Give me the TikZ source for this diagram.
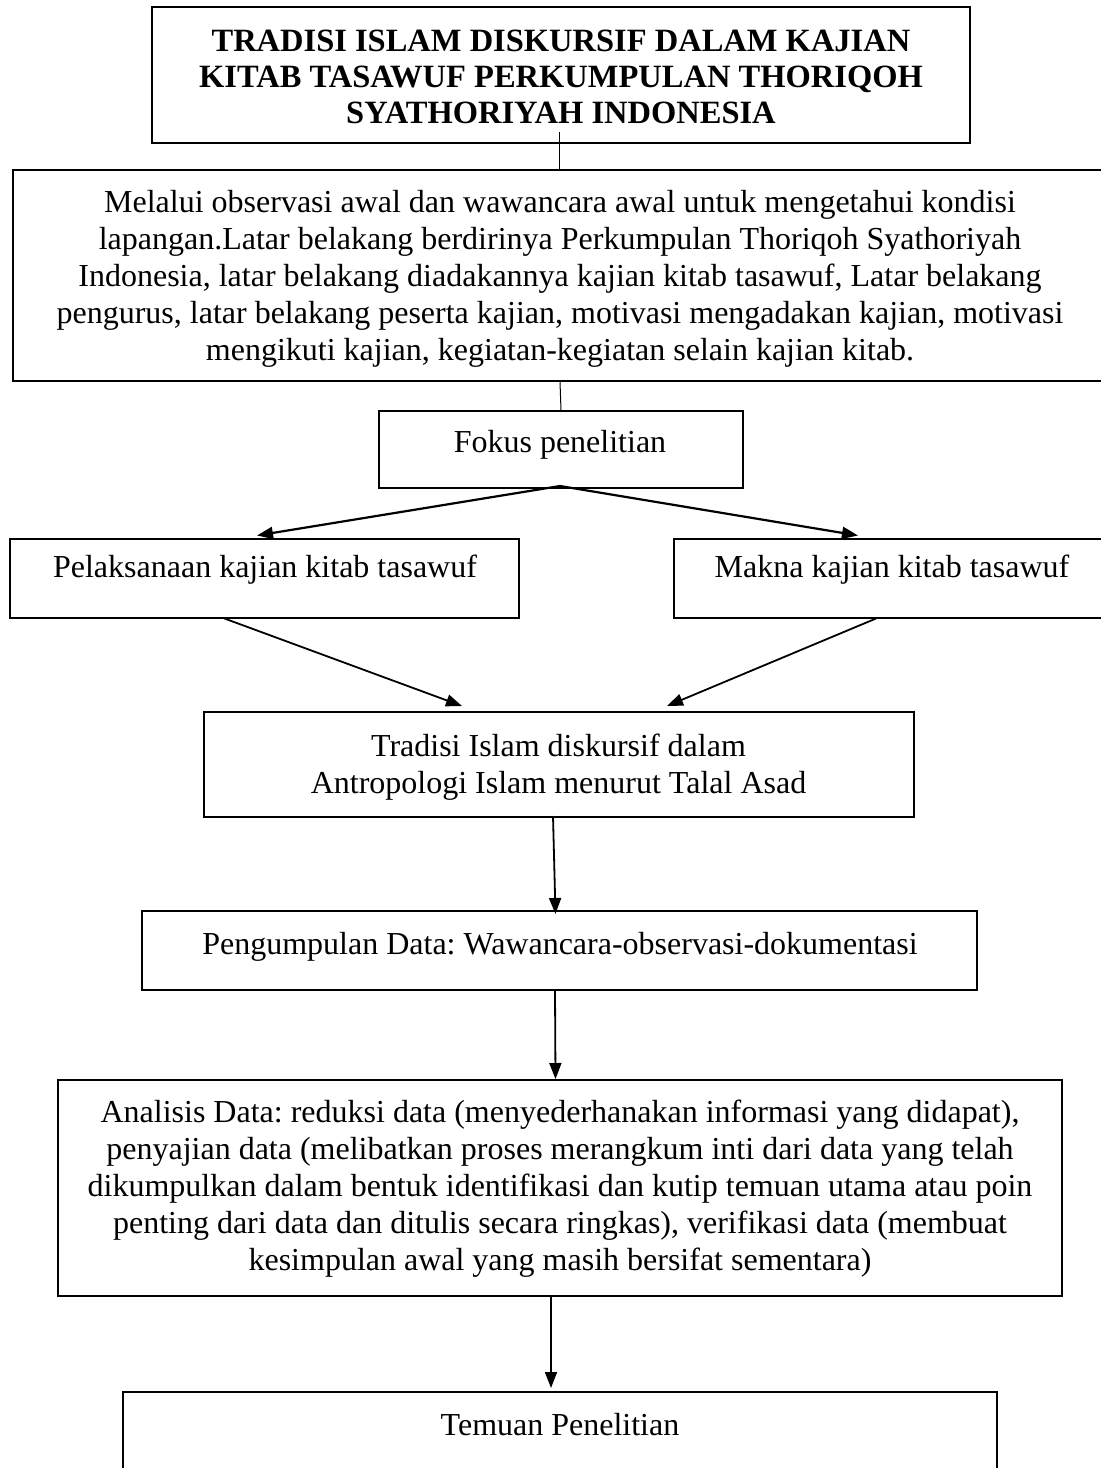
\documentclass[tikz,border=0pt]{standalone}
\usepackage{fontspec}
\setmainfont{Liberation Serif}
\usetikzlibrary{arrows.meta}
\frenchspacing
\newcommand\fsz{\fontsize{32}{37}\selectfont}
\newcommand\tsz{\fontsize{32.5}{36}\selectfont\bfseries}
\tikzset{
  boxnode/.style={draw, line width=2pt, rectangle, inner sep=0pt},
  txt/.style={font=\fsz, align=center, inner sep=0pt},
  conn/.style={line width=1pt},
  arr/.style={line width=1.8pt, -{Triangle[length=16pt,width=12pt]}},
  thickarr/.style={arr, line width=2.2pt},
}
\begin{document}
\begin{tikzpicture}[x=1pt,y=-1pt]
\useasboundingbox (0,0) rectangle (1101,1468);
\clip (0,0) rectangle (1101,1468);
\fill[white] (0,0) rectangle (1101,1468);
% boxes
\node[boxnode, minimum width=818, minimum height=136] (title) at (561,75) {};
\node[boxnode, minimum width=1094, minimum height=211] (obs) at (560,275.5) {};
\node[boxnode, minimum width=364, minimum height=77] (fokus) at (561,449.5) {};
\node[boxnode, minimum width=509, minimum height=79] (pel) at (264.5,578) {};
\node[boxnode, minimum width=436, minimum height=79] (makna) at (892,578) {};
\node[boxnode, minimum width=710, minimum height=105] (trad) at (559,764.5) {};
\node[boxnode, minimum width=835, minimum height=79] (peng) at (559.5,950.5) {};
\node[boxnode, minimum width=1004, minimum height=216] (anal) at (560,1188) {};
\node[boxnode, minimum width=874, minimum height=120] (temuan) at (560,1452) {};
% texts
\node[txt, font=\tsz] (titletxt) at (561,77) {TRADISI ISLAM DISKURSIF DALAM KAJIAN\\KITAB TASAWUF PERKUMPULAN THORIQOH\\SYATHORIYAH INDONESIA};
\node[txt] (obstxt) at (560,279) {Melalui observasi awal dan wawancara awal untuk mengetahui kondisi\\lapangan.Latar belakang berdirinya Perkumpulan Thoriqoh Syathoriyah\\Indonesia, latar belakang diadakannya kajian kitab tasawuf, Latar belakang\\pengurus, latar belakang peserta kajian, motivasi mengadakan kajian, motivasi\\mengikuti kajian, kegiatan-kegiatan selain kajian kitab.};
\node[txt] (fokustxt) at (560,445) {Fokus penelitian};
\node[txt] (peltxt) at (265,570) {Pelaksanaan kajian kitab tasawuf};
\node[txt] (maknatxt) at (892,570) {Makna kajian kitab tasawuf};
\node[txt] (tradtxt) at (558.5,767) {Tradisi Islam diskursif dalam\\Antropologi Islam menurut Talal Asad};
\node[txt] (pengtxt) at (560,947) {Pengumpulan Data: Wawancara-observasi-dokumentasi};
\node[txt] (analtxt) at (560,1188.5) {Analisis Data: reduksi data (menyederhanakan informasi yang didapat),\\penyajian data (melibatkan proses merangkum inti dari data yang telah\\dikumpulkan dalam bentuk identifikasi dan kutip temuan utama atau poin\\penting dari data dan ditulis secara ringkas), verifikasi data (membuat\\kesimpulan awal yang masih bersifat sementara)};
\node[txt] (temuantxt) at (560,1425) {Temuan Penelitian};
% connectors
\draw[conn] ([xshift=-2pt,yshift=12pt]title.south) -- ([xshift=-1pt]obs.north);
\draw[conn] (obs.south) -- (fokus.north);
\draw[thickarr] ([xshift=-1pt,yshift=3pt]fokus.south) -- ([xshift=-7.5pt,yshift=2pt]pel.north);
\draw[thickarr] ([xshift=-1pt,yshift=3pt]fokus.south) -- ([xshift=-34pt,yshift=2pt]makna.north);
\draw[arr] ([xshift=-40pt]pel.south) -- ([xshift=-97pt,yshift=5pt]trad.north);
\draw[arr] ([xshift=-16pt]makna.south) -- ([xshift=108pt,yshift=5pt]trad.north);
\draw[arr] ([xshift=-6pt,yshift=2pt]trad.south) -- ([xshift=-4pt,yshift=-4pt]peng.north);
\draw[arr] ([xshift=-4.5pt]peng.south) -- ([xshift=-4.5pt]anal.north);
\draw[arr] ([xshift=-9pt]anal.south) -- ([xshift=-9pt,yshift=3pt]temuan.north);
\end{tikzpicture}
\end{document}
